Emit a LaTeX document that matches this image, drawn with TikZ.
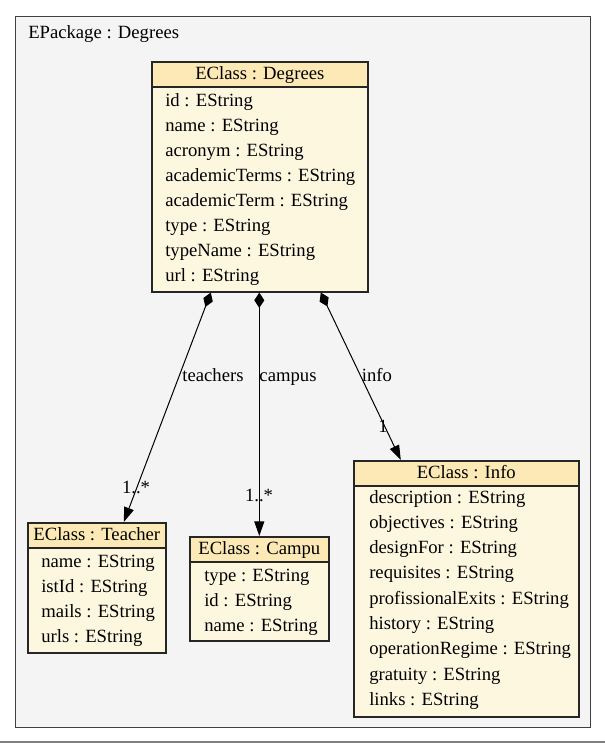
\documentclass[tikz,border=0pt]{standalone}
\usepackage{fontspec}
\setmainfont{Liberation Serif}
\usetikzlibrary{arrows.meta,calc}
\definecolor{pkgfill}{HTML}{F4F4F4}
\definecolor{headfill}{HTML}{FCE9B5}
\definecolor{bodyfill}{HTML}{FEF7E0}

\begin{document}
\begin{tikzpicture}[x=0.75pt,y=-0.75pt,
  font=\fontsize{14}{17}\selectfont,
  classbox/.style={draw=black!85,fill=bodyfill,line width=1.2pt,anchor=north west,inner sep=0pt},
  classhead/.style={draw=black!85,fill=headfill,line width=1.2pt,anchor=north west,inner sep=0pt,
    minimum height=18.75pt,text height=11.25pt,text depth=3pt},
  attr/.style={anchor=base west,inner sep=0pt},
  lbl/.style={anchor=base,inner sep=0pt},
  comp/.style={line width=0.75pt,{Diamond[length=11.5pt,width=7.5pt]}-{Triangle[length=11pt,width=7.5pt]}}]

  \useasboundingbox (0,0) rectangle (605,743);
  \draw [gray,line width=1.5pt] (0,742) -- (605,742);

  % package
  \node [draw=black!75,fill=pkgfill,line width=1pt,anchor=north west,
    minimum width=431.25pt,minimum height=533.25pt] (pkg) at (15,16) {};
  \node [attr] (pkgname) at (28,38) {EPackage : Degrees};

  % classes
  \node [classbox,minimum width=162pt,minimum height=172.5pt] (degrees) at (151,61) {};
  \node [classhead,minimum width=162pt] (degreesHead) at (degrees.north west) {EClass : Degrees};
  \foreach \f [count=\i] in {id,name,acronym,academicTerms,academicTerm,type,typeName,url}
    \node [attr] (deg\i) at (165,{106+25.1*(\i-1)}) {\f\ : EString};

  \node [classbox,minimum width=103.5pt,minimum height=97.5pt] (teacher) at (27,522) {};
  \node [classhead,minimum width=103.5pt] (teacherHead) at (teacher.north west) {EClass : Teacher};
  \foreach \f [count=\i] in {name,istId,mails,urls}
    \node [attr] (tea\i) at (41,{567+25.3*(\i-1)}) {\f\ : EString};

  \node [classbox,minimum width=104.25pt,minimum height=78pt] (campu) at (189,536) {};
  \node [classhead,minimum width=104.25pt] (campuHead) at (campu.north west) {EClass : Campu};
  \foreach \f [count=\i] in {type,id,name}
    \node [attr] (cam\i) at (204,{581+25.2*(\i-1)}) {\f\ : EString};

  \node [classbox,minimum width=168.75pt,minimum height=192pt] (info) at (353,460) {};
  \node [classhead,minimum width=168.75pt] (infoHead) at (info.north west) {EClass : Info};
  \foreach \f [count=\i] in {description,objectives,designFor,requisites,profissionalExits,
      history,operationRegime,gratuity,links}
    \node [attr] (inf\i) at (369,{503+25.3*(\i-1)}) {\f\ : EString};

  % references
  \draw [comp] ($(degrees.south)+(-49,0)$) -- ($(teacher.north)+(27,0)$);
  \draw [comp] (degrees.south -| campu.north) -- (campu.north);
  \draw [comp] ($(degrees.south)+(61,0)$) -- ($(info.north)+(-65.5,0)$);

  \node [lbl] (lblTeachers) at (213,381) {teachers};
  \node [lbl] (lblCampus) at (288,381) {campus};
  \node [lbl] (lblInfo) at (377,381) {info};
  \node [lbl] (mulTeachers) at (136,493) {1..*};
  \node [lbl] (mulCampus) at (259,501) {1..*};
  \node [lbl] (mulInfo) at (383,432) {1};
\end{tikzpicture}
\end{document}
